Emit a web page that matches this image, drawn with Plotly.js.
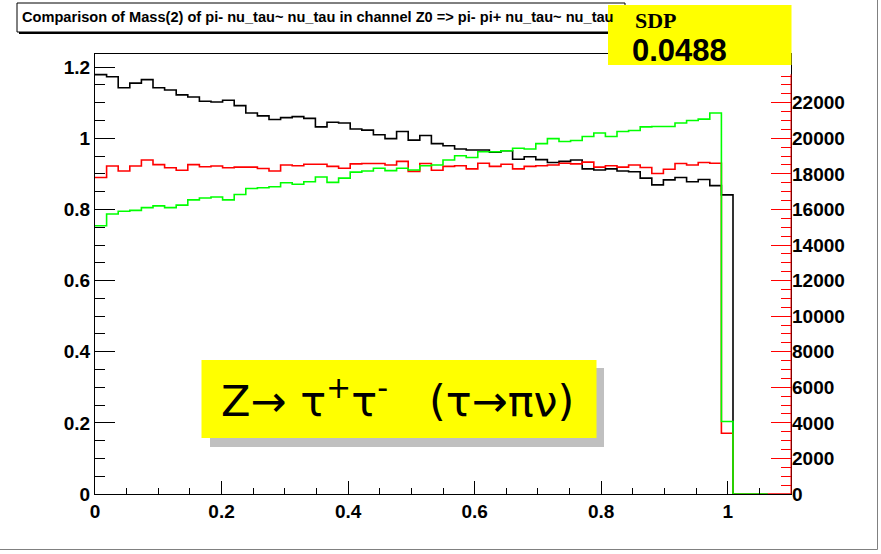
<!DOCTYPE html>
<html>
<head>
<meta charset="utf-8">
<script src="https://cdn.plot.ly/plotly-3.0.1.min.js"></script>
<style>
html,body{margin:0;padding:0;background:#fff;}
#chart{width:881px;height:554px;}
</style>
</head>
<body>
<div id="chart"></div>
<script>
// ---- data ----
const nBins = 60;          // histogram bins on [0, 1.1]
const xMin = 0, xMax = 1.1;

// ratio histogram (left axis)
const blackRatio = [1.179,1.173,1.142,1.155,1.165,1.142,1.136,1.122,1.116,1.104,
  1.102,1.107,1.092,1.071,1.063,1.053,1.058,1.061,1.056,1.032,
  1.045,1.043,1.026,1.023,1.010,0.999,1.019,0.995,1.008,0.985,
  0.979,0.970,0.967,0.967,0.961,0.965,0.941,0.948,0.940,0.932,
  0.935,0.939,0.914,0.911,0.914,0.908,0.906,0.888,0.869,0.883,
  0.890,0.878,0.884,0.867,0.841];

// red histogram counts (right axis)
const redCounts = [17800,18440,18160,18440,18780,18520,18340,18200,18520,18400,
  18440,18340,18380,18380,18300,18160,18500,18460,18540,18540,
  18420,18320,18560,18580,18580,18500,18700,18140,18580,18200,
  18420,18460,18280,18600,18420,18540,18280,18420,18460,18500,
  18600,18560,18660,18380,18460,18380,18500,18360,18020,18260,
  18580,18500,18640,18600,3420,0,0,0,0,0];

// green histogram counts (right axis)
const greenCounts = [15080,15740,15900,15950,16100,16200,16100,16240,16540,16640,
  16700,16540,16840,17180,17220,17280,17500,17420,17560,17820,
  17520,17760,18100,18160,18320,18180,18320,18220,18460,18500,
  18780,19020,18920,19240,19240,19300,19440,19400,19700,19980,
  19820,19880,20100,20300,20100,20380,20440,20640,20660,20660,
  20860,21000,21080,21420,4080,0,0,0];

const leftTickVals = [0,0.2,0.4,0.6,0.8,1,1.2];
const rightTickVals = [0,2000,4000,6000,8000,10000,12000,14000,16000,18000,20000,22000];
const rightTickText = ['0','2000','4000','6000','8000','10000','12000','14000','16000','18000','20000','22000'];

const titleText = 'Comparison of Mass(2) of pi- nu_tau~ nu_tau in channel Z0 => pi- pi+ nu_tau~ nu_tau';
const sdpLabel = 'SDP';
const sdpValue = '0.0488';
const processText = 'Z\u2192 \u03c4<sup>+</sup>\u03c4<sup>-</sup>\u00a0\u00a0 (\u03c4\u2192\u03c0\u03bd)';

// ---- build step histograms ----
const binWidth = (xMax - xMin) / nBins;
function stepTrace(values, color, yaxis) {
  const xs = [], ys = [];
  values.forEach((v, i) => { xs.push(xMin + i * binWidth); ys.push(v); });
  xs.push(xMin + values.length * binWidth); ys.push(0);
  return {
    type: 'scatter', mode: 'lines', x: xs, y: ys, yaxis: yaxis,
    line: {shape: 'hv', color: color, width: 1.6},
    hoverinfo: 'skip', showlegend: false
  };
}

const traces = [
  stepTrace(blackRatio, '#000000', 'y'),
  stepTrace(redCounts, '#ff0000', 'y2'),
  stepTrace(greenCounts, '#00ff00', 'y2')
];

// right axis minor ticks
const rightMinor = [];
for (let v = 500; v <= 23500; v += 500) { if (v % 2000 !== 0) rightMinor.push(v); }

const tickFont = {family: 'Liberation Sans, Arial, sans-serif', size: 19, color: '#000', weight: 'bold'};

// paper coordinate helpers (plot area: x 95..791, y 54..494)
const L = 95, R = 791, T = 54, B = 494;
const px = v => (v - L) / (R - L);
const py = v => (B - v) / (B - T);

const layout = {
  width: 881, height: 554,
  margin: {l: L, r: 881 - R, t: T, b: 554 - B, pad: 0},
  paper_bgcolor: '#ffffff', plot_bgcolor: '#ffffff',
  showlegend: false,
  xaxis: {
    range: [xMin, xMax], showgrid: false, zeroline: false,
    showline: true, linecolor: '#000', linewidth: 1, mirror: true,
    ticks: 'inside', ticklen: 13, tickwidth: 1, tickcolor: '#000',
    tickmode: 'linear', tick0: 0, dtick: 0.2,
    minor: {ticks: 'inside', ticklen: 6, tickwidth: 1, tickcolor: '#000', dtick: 0.05, tick0: 0},
    tickfont: tickFont
  },
  yaxis: {
    range: [0, 1.237], showgrid: false, zeroline: false,
    showline: true, linecolor: '#000', linewidth: 1, mirror: true,
    ticks: 'inside', ticklen: 20, tickwidth: 1, tickcolor: '#000',
    tickmode: 'array', tickvals: leftTickVals,
    minor: {ticks: 'inside', ticklen: 10, tickwidth: 1, tickcolor: '#000', dtick: 0.05, tick0: 0},
    tickfont: tickFont
  },
  yaxis2: {
    overlaying: 'y', side: 'right', anchor: 'x',
    range: [0, 24740], showgrid: false, zeroline: false, showline: false,
    ticks: 'inside', ticklen: 20, tickwidth: 1, tickcolor: '#ff0000',
    tickmode: 'array', tickvals: rightTickVals, ticktext: rightTickText,
    minor: {ticks: 'inside', ticklen: 10, tickwidth: 1, tickcolor: '#ff0000', tickmode: 'array', tickvals: rightMinor},
    tickfont: tickFont
  },
  shapes: [
    // red right axis line
    {type: 'line', xref: 'paper', yref: 'y2', x0: 1, x1: 1, y0: 0, y1: 23600, line: {color: '#ff0000', width: 1}},
    // title box shadow + box
    {type: 'rect', xref: 'paper', yref: 'paper', x0: px(19), x1: px(627), y0: py(5), y1: py(34), fillcolor: '#000', line: {width: 0}, layer: 'above'},
    {type: 'rect', xref: 'paper', yref: 'paper', x0: px(17), x1: px(625), y0: py(3), y1: py(32), fillcolor: '#fff', line: {color: '#000', width: 1}, layer: 'above'},
    // SDP yellow box
    {type: 'rect', xref: 'paper', yref: 'paper', x0: px(608), x1: px(791.5), y0: py(5), y1: py(65), fillcolor: '#ffff00', line: {width: 0}, layer: 'above'},
    // process box shadow + box
    {type: 'rect', xref: 'paper', yref: 'paper', x0: px(210), x1: px(604), y0: py(368), y1: py(447), fillcolor: '#c0c0c0', line: {width: 0}, layer: 'above'},
    {type: 'rect', xref: 'paper', yref: 'paper', x0: px(201.5), x1: px(596.5), y0: py(360), y1: py(438), fillcolor: '#ffff00', line: {width: 0}, layer: 'above'},
    // canvas border (right / bottom)
    {type: 'line', xref: 'paper', yref: 'paper', x0: px(877.5), x1: px(877.5), y0: py(0), y1: py(549.5), line: {color: '#808080', width: 1}},
    {type: 'line', xref: 'paper', yref: 'paper', x0: px(0), x1: px(877.5), y0: py(549.5), y1: py(549.5), line: {color: '#808080', width: 1}}
  ],
  annotations: [
    {xref: 'paper', yref: 'paper', x: px(20), y: py(17.5), xanchor: 'left', yanchor: 'middle', showarrow: false,
     text: titleText, font: {family: 'Liberation Sans, Arial, sans-serif', size: 14.6, color: '#000', weight: 'bold'}},
    {xref: 'paper', yref: 'paper', x: px(633), y: py(20.5), xanchor: 'left', yanchor: 'middle', showarrow: false,
     text: sdpLabel, font: {family: 'Liberation Serif, Times New Roman, serif', size: 22, color: '#000', weight: 'bold'}},
    {xref: 'paper', yref: 'paper', x: px(630), y: py(50.5), xanchor: 'left', yanchor: 'middle', showarrow: false,
     text: sdpValue, font: {family: 'Liberation Sans, Arial, sans-serif', size: 31, color: '#000', weight: 'bold'}},
    {xref: 'paper', yref: 'paper', x: px(397.5), y: py(398), xanchor: 'center', yanchor: 'middle', showarrow: false,
     text: processText, font: {family: 'DejaVu Sans, sans-serif', size: 43, color: '#000'}}
  ]
};

Plotly.newPlot('chart', traces, layout, {staticPlot: true, displayModeBar: false});
</script>
</body>
</html>
